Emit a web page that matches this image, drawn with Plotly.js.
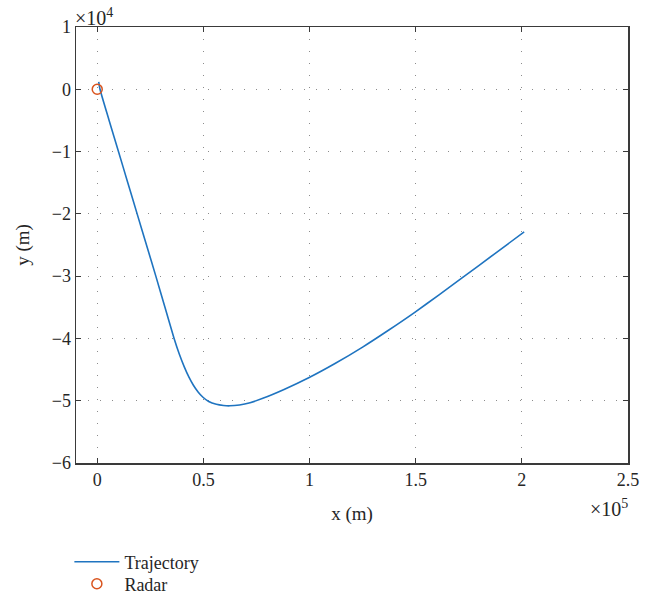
<!DOCTYPE html>
<html>
<head>
<meta charset="utf-8">
<script src="https://cdn.plot.ly/plotly-3.0.1.min.js"></script>
<style>html,body{margin:0;padding:0;background:#fff;}#chart{width:659px;height:599px;}</style>
</head>
<body>
<div id="chart"></div>
<script>
// Trajectory (m)
var trajX = [700, 1300, 5600, 10000, 14400, 18800, 23200, 27600, 31900, 36200, 38600, 41000, 43200, 45300, 47500, 49800, 52500, 56100, 59500, 62400, 67000, 72000, 78000, 88000, 99600, 112000, 125000, 137000, 149400, 161000, 172000, 187000, 201100];
var trajY = [1200, 0, -5000, -10000, -15000, -20000, -25000, -30000, -35000, -40000, -42450, -44560, -46210, -47510, -48590, -49440, -50120, -50580, -50770, -50820, -50680, -50310, -49620, -48200, -46320, -44030, -41390, -38730, -35850, -33000, -30250, -26450, -22900];
// Radar position
var radarX = [0];
var radarY = [0];
// Ticks
var xTickVals = [0, 50000, 100000, 150000, 200000, 250000];
var xTickText = ['0', '0.5', '1', '1.5', '2', '2.5'];
var yTickVals = [-60000, -50000, -40000, -30000, -20000, -10000, 0, 10000];
var yTickText = ['\u22126', '\u22125', '\u22124', '\u22123', '\u22122', '\u22121', '0', '1'];

var font = 'Liberation Serif, Times New Roman, serif';
var txtColor = '#262626';
var axisCommon = {
  showline: true, linecolor: '#3a3a3a', linewidth: 1.5, mirror: 'ticks',
  ticks: 'inside', ticklen: 5, tickcolor: '#3a3a3a', tickwidth: 1,
  showgrid: true, gridcolor: '#8c8c8c', gridwidth: 1, griddash: '1px,11px',
  zeroline: false, tickfont: {family: font, size: 18, color: txtColor}, automargin: false
};
var data = [
  {x: trajX, y: trajY, mode: 'lines', name: 'Trajectory', legend: 'legend',
    line: {color: '#1f74c0', width: 1.6, shape: 'spline', smoothing: 0.6}},
  {x: radarX, y: radarY, mode: 'markers', name: 'Radar', legend: 'legend2',
    marker: {symbol: 'circle-open', size: 10, color: '#d9541e', line: {width: 1.5}}}
];
var legendCommon = {x: -0.012, xref: 'paper', xanchor: 'left', yref: 'container', yanchor: 'middle',
  bgcolor: 'rgba(0,0,0,0)', font: {family: font, size: 18, color: txtColor}, itemwidth: 45};
var layout = {
  width: 659, height: 599,
  margin: {l: 76, r: 31, t: 27, b: 136},
  paper_bgcolor: '#fff', plot_bgcolor: '#fff',
  font: {family: font, size: 18, color: txtColor},
  xaxis: Object.assign({}, axisCommon, {range: [-10000, 250000], tickvals: xTickVals, ticktext: xTickText,
    title: {text: 'x (m)', font: {family: font, size: 19, color: txtColor}, standoff: 17}}),
  yaxis: Object.assign({}, axisCommon, {range: [-60000, 10000], tickvals: yTickVals, ticktext: yTickText,
    title: {text: 'y (m)', font: {family: font, size: 19, color: txtColor}, standoff: 17}}),
  showlegend: true,
  legend: Object.assign({}, legendCommon, {y: 1 - 562 / 599}),
  legend2: Object.assign({}, legendCommon, {y: 1 - 584 / 599}),
  annotations: [
    {xref: 'paper', yref: 'paper', x: 0, y: 1, xanchor: 'left', yanchor: 'bottom', showarrow: false,
      text: '\u00d710<sup>4</sup>', font: {family: font, size: 20, color: txtColor}, xshift: -3, yshift: -4},
    {xref: 'paper', yref: 'paper', x: 1, y: 0, xanchor: 'right', yanchor: 'top', showarrow: false,
      text: '\u00d710<sup>5</sup>', font: {family: font, size: 20, color: txtColor}, xshift: 2, yshift: -31}
  ]
};
Plotly.newPlot('chart', data, layout, {displayModeBar: false, staticPlot: true});
</script>
</body>
</html>
